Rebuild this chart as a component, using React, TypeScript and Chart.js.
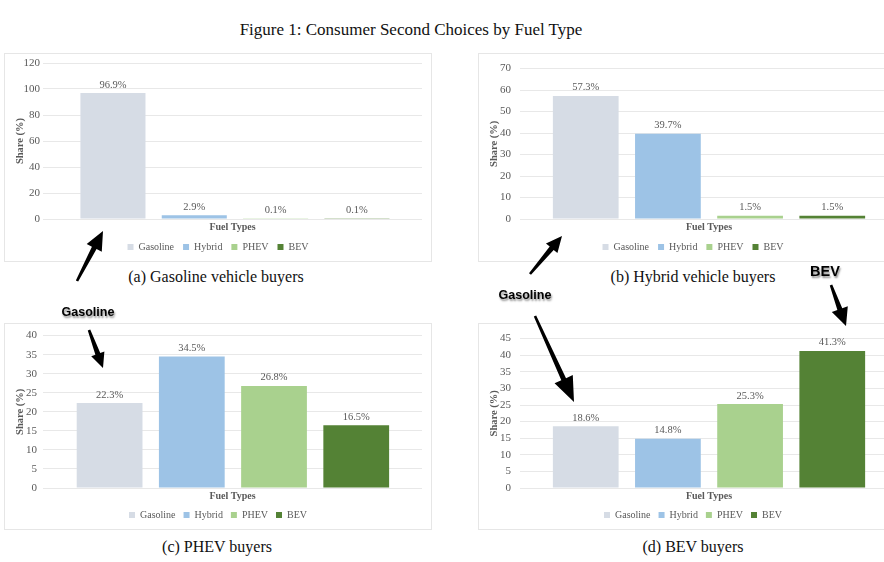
import React, { useEffect, useRef } from "react";
import { Chart, registerables } from "chart.js";

Chart.register(...registerables);

// ---------- data ----------
const categories = ["Gasoline", "Hybrid", "PHEV", "BEV"];
const barColors = ["#d6dce5", "#9dc3e6", "#a9d18e", "#548235"];
const gasolineBuyers = [96.9, 2.9, 0.1, 0.1];
const hybridBuyers = [57.3, 39.7, 1.5, 1.5];
const phevBuyers = [22.3, 34.5, 26.8, 16.5];
const bevBuyers = [18.6, 14.8, 25.3, 41.3];
const yAxisMax = [120, 70, 40, 45];
const yAxisStep = [20, 10, 5, 5];
const captions = [
  "(a) Gasoline vehicle buyers",
  "(b) Hybrid vehicle buyers",
  "(c) PHEV buyers",
  "(d) BEV buyers",
];
const figureTitle = "Figure 1: Consumer Second Choices by Fuel Type";
const yTitle = "Share (%)";
const xTitle = "Fuel Types";

const SERIF = "'Liberation Serif', 'Times New Roman', serif";
const SANS = "'Liberation Sans', Arial, Helvetica, sans-serif";
const GRAY = "#595959";

const valueLabels = {
  id: "valueLabels",
  afterDatasetsDraw(chart: any) {
    const ctx = chart.ctx;
    ctx.save();
    ctx.font = `10.5px ${SERIF}`;
    ctx.fillStyle = GRAY;
    ctx.textAlign = "center";
    ctx.textBaseline = "bottom";
    chart.data.datasets.forEach((ds: any, i: number) => {
      const meta = chart.getDatasetMeta(i);
      meta.data.forEach((el: any, j: number) => {
        const v = ds.data[j].y as number;
        ctx.fillText(v.toFixed(1) + "%", el.x, el.y - 3);
      });
    });
    ctx.restore();
  },
};

type PanelProps = {
  values: number[];
  yMax: number;
  yStep: number;
  left: number;
  top: number;
  width: number;
  height: number;
  xMin: number;
  xMax: number;
  yAxisWidth: number;
  tickPad: number;
  xTitleH: number;
  legendPad: number;
};

function Panel(p: PanelProps) {
  const ref = useRef<HTMLCanvasElement | null>(null);
  useEffect(() => {
    if (!ref.current) return;
    const chart = new Chart(ref.current, {
      type: "bar",
      data: {
        datasets: categories.map((c, i) => ({
          label: c,
          data: [{ x: i, y: p.values[i] }],
          backgroundColor: barColors[i],
          borderWidth: 0,
          grouped: false,
          categoryPercentage: 0.8,
          barPercentage: 1,
        })),
      } as any,
      options: {
        animation: false,
        responsive: false,
        layout: { padding: { left: 10, right: 10, top: 10, bottom: 0 } },
        plugins: {
          tooltip: { enabled: false },
          legend: {
            position: "bottom",
            labels: {
              boxWidth: 6,
              boxHeight: 6,
              padding: p.legendPad,
              color: GRAY,
              font: { family: SERIF, size: 10 },
            },
          },
        },
        scales: {
          x: {
            type: "linear",
            min: p.xMin,
            max: p.xMax,
            offset: false,
            ticks: { display: false, stepSize: 1, includeBounds: false },
            grid: { display: false },
            border: { display: false },
            title: {
              display: true,
              text: xTitle,
              color: GRAY,
              font: { family: SERIF, size: 10, weight: "bold" },
              padding: 0,
            },
            afterFit: (s: any) => {
              s.height = p.xTitleH;
            },
          },
          y: {
            min: 0,
            max: p.yMax,
            ticks: {
              stepSize: p.yStep,
              color: GRAY,
              padding: p.tickPad,
              font: { family: SERIF, size: 11 },
            },
            grid: { color: "#e8e8e8", drawTicks: false },
            border: { display: false },
            title: {
              display: true,
              text: yTitle,
              color: GRAY,
              font: { family: SERIF, size: 10.5, weight: "bold" },
              padding: 0,
            },
            afterFit: (s: any) => {
              s.width = p.yAxisWidth;
            },
          },
        },
      } as any,
      plugins: [valueLabels],
    });
    return () => chart.destroy();
  }, []);
  return (
    <>
      <div
        style={{
          position: "absolute",
          left: p.left,
          top: p.top,
          width: p.width,
          height: p.height,
          border: "1px solid #e6e6e6",
          boxSizing: "border-box",
        }}
      />
      <canvas
        ref={ref}
        width={p.width}
        height={p.height}
        style={{ position: "absolute", left: p.left, top: p.top, width: p.width, height: p.height }}
      />
    </>
  );
}

function arrowPoints(
  x1: number, y1: number, x2: number, y2: number,
  headLen: number, headHalf: number, tailHalf: number, neckHalf: number
) {
  const dx = x2 - x1, dy = y2 - y1;
  const L = Math.hypot(dx, dy);
  const ux = dx / L, uy = dy / L;
  const nx = -uy, ny = ux;
  const bx = x2 - ux * headLen, by = y2 - uy * headLen;
  const pts = [
    [x1 + nx * tailHalf, y1 + ny * tailHalf],
    [bx + nx * neckHalf, by + ny * neckHalf],
    [bx + nx * headHalf, by + ny * headHalf],
    [x2, y2],
    [bx - nx * headHalf, by - ny * headHalf],
    [bx - nx * neckHalf, by - ny * neckHalf],
    [x1 - nx * tailHalf, y1 - ny * tailHalf],
  ];
  return pts.map((q) => q.join(",")).join(" ");
}

const arrows = [
  { x1: 77, y1: 281, x2: 103, y2: 231, hl: 19, hw: 8.5 },
  { x1: 89, y1: 330, x2: 103, y2: 368, hl: 15, hw: 7 },
  { x1: 530, y1: 274, x2: 562, y2: 236, hl: 16, hw: 7.5 },
  { x1: 535, y1: 316, x2: 574, y2: 402, hl: 25, hw: 10 },
  { x1: 831, y1: 285, x2: 846, y2: 326, hl: 18, hw: 8.5 },
];

const calloutLabels = [
  { text: "Gasoline", x: 88, y: 312, size: 12.5 },
  { text: "Gasoline", x: 525, y: 295, size: 12.5 },
  { text: "BEV", x: 825, y: 271, size: 14.5 },
];

function TextAt(props: { text: string; x: number; y: number; style: React.CSSProperties }) {
  return (
    <div
      style={{
        position: "absolute",
        left: props.x - 250,
        top: props.y - 12,
        width: 500,
        height: 24,
        lineHeight: "24px",
        textAlign: "center",
        whiteSpace: "nowrap",
        ...props.style,
      }}
    >
      {props.text}
    </div>
  );
}

export default function App() {
  const capStyle: React.CSSProperties = { fontFamily: SERIF, fontSize: 16, color: "#111" };
  return (
    <div
      style={{
        position: "absolute",
        left: 0,
        top: 0,
        width: 884,
        height: 562,
        overflow: "hidden",
        background: "#fff",
      }}
    >
      <TextAt text={figureTitle} x={411} y={30} style={{ ...capStyle, fontSize: 17 }} />
      <Panel values={gasolineBuyers} yMax={yAxisMax[0]} yStep={yAxisStep[0]}
        left={4} top={53} width={428} height={209} xMin={-0.86} xMax={3.8}
        yAxisWidth={29} tickPad={3} xTitleH={14} legendPad={9} />
      <Panel values={hybridBuyers} yMax={yAxisMax[1]} yStep={yAxisStep[1]}
        left={478} top={53} width={430} height={209} xMin={-0.8} xMax={3.8}
        yAxisWidth={32} tickPad={9} xTitleH={14} legendPad={9} />
      <Panel values={phevBuyers} yMax={yAxisMax[2]} yStep={yAxisStep[2]}
        left={4} top={323} width={428} height={207} xMin={-0.81} xMax={3.8}
        yAxisWidth={29} tickPad={6} xTitleH={14} legendPad={8} />
      <Panel values={bevBuyers} yMax={yAxisMax[3]} yStep={yAxisStep[3]}
        left={478} top={323} width={430} height={207} xMin={-0.8} xMax={3.8}
        yAxisWidth={32} tickPad={9} xTitleH={14} legendPad={8} />
      <TextAt text={captions[0]} x={216} y={277} style={capStyle} />
      <TextAt text={captions[1]} x={693} y={277} style={capStyle} />
      <TextAt text={captions[2]} x={217} y={547} style={capStyle} />
      <TextAt text={captions[3]} x={693} y={547} style={capStyle} />
      <svg
        width={884}
        height={562}
        style={{ position: "absolute", left: 0, top: 0, pointerEvents: "none" }}
      >
        {arrows.map((a, i) => (
          <polygon
            key={i}
            points={arrowPoints(a.x1, a.y1, a.x2, a.y2, a.hl, a.hw, 1.3, 2.6)}
            fill="#000"
          />
        ))}
      </svg>
      {calloutLabels.map((c, i) => (
        <TextAt
          key={i}
          text={c.text}
          x={c.x}
          y={c.y}
          style={{
            fontFamily: SANS,
            fontWeight: "bold",
            fontSize: c.size,
            color: "#000",
            textShadow: "1px 2px 2px rgba(0,0,0,0.45)",
          }}
        />
      ))}
    </div>
  );
}
